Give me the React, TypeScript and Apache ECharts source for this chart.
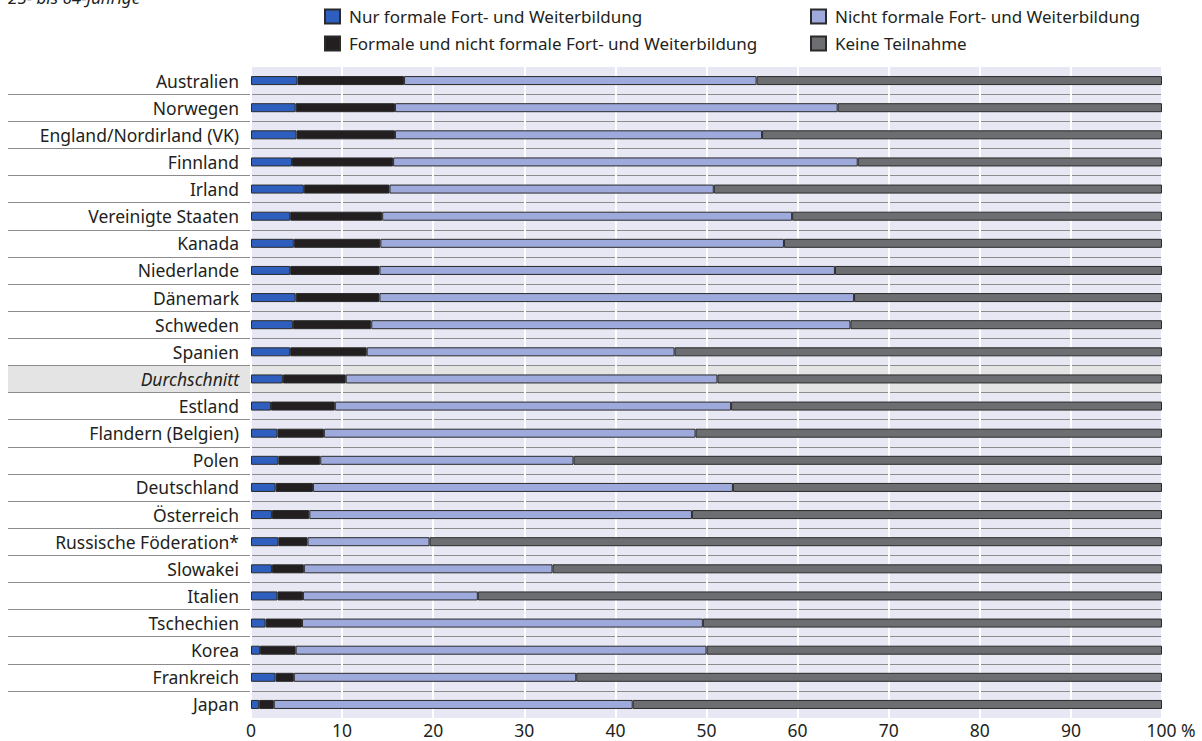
import React, { useEffect, useRef } from "react";
import * as echarts from "echarts";

const FONT = '"Noto Sans", "Liberation Sans", sans-serif';
const TEXT = "#231f20";
const FS = 17.5;

const categories = [
  "Australien",
  "Norwegen",
  "England/Nordirland (VK)",
  "Finnland",
  "Irland",
  "Vereinigte Staaten",
  "Kanada",
  "Niederlande",
  "Dänemark",
  "Schweden",
  "Spanien",
  "Durchschnitt",
  "Estland",
  "Flandern (Belgien)",
  "Polen",
  "Deutschland",
  "Österreich",
  "Russische Föderation*",
  "Slowakei",
  "Italien",
  "Tschechien",
  "Korea",
  "Frankreich",
  "Japan",
];

const nurFormal = [5.1, 4.9, 5.0, 4.5, 5.8, 4.3, 4.7, 4.3, 4.9, 4.6, 4.3, 3.5, 2.2, 2.9, 3.0, 2.7, 2.3, 3.0, 2.3, 2.9, 1.6, 1.0, 2.7, 0.9];
const formalUndNicht = [11.7, 10.9, 10.8, 11.1, 9.4, 10.1, 9.5, 9.8, 9.2, 8.6, 8.4, 6.9, 7.0, 5.1, 4.6, 4.1, 4.1, 3.2, 3.5, 2.8, 4.0, 3.9, 2.0, 1.6];
const nichtFormal = [38.7, 48.6, 40.3, 51.0, 35.6, 45.0, 44.3, 50.0, 52.1, 52.6, 33.8, 40.8, 43.5, 40.8, 27.8, 46.1, 42.0, 13.4, 27.3, 19.2, 44.0, 45.1, 31.0, 39.4];
const keineTeilnahme = [44.5, 35.6, 43.9, 33.4, 49.2, 40.6, 41.5, 35.9, 33.8, 34.2, 53.5, 48.8, 47.3, 51.2, 64.6, 47.1, 51.6, 80.4, 66.9, 75.1, 50.4, 50.0, 64.3, 58.1];

const seriesNames = [
  "Nur formale Fort- und Weiterbildung",
  "Formale und nicht formale Fort- und Weiterbildung",
  "Nicht formale Fort- und Weiterbildung",
  "Keine Teilnahme",
];
const seriesColors = ["#2e5fbe", "#231f20", "#9ea9dc", "#6d6e71"];
const seriesData = [nurFormal, formalUndNicht, nichtFormal, keineTeilnahme];

const highlightCategory = "Durchschnitt";
const xTicks = [0, 10, 20, 30, 40, 50, 60, 70, 80, 90, 100];

export default function App() {
  const ref = useRef<HTMLDivElement>(null);

  useEffect(() => {
    if (!ref.current) return;
    const chart = echarts.init(ref.current, null, { renderer: "svg" });

    const legendCommon = {
      orient: "vertical",
      top: 3,
      itemWidth: 15,
      itemHeight: 14,
      itemGap: 10,
      icon: "rect",
      selectedMode: false,
      textStyle: { fontFamily: FONT, fontSize: 17, lineHeight: 17, color: TEXT, padding: [0, 0, 0, 4] },
    };

    chart.setOption({
      animation: false,
      textStyle: { fontFamily: FONT },
      graphic: [
        {
          type: "text",
          left: 8,
          top: -11,
          style: { text: "25- bis 64-Jährige", font: `italic 17px ${FONT}`, fill: TEXT },
        },
      ],
      legend: [
        { ...legendCommon, left: 319, data: [seriesNames[0], seriesNames[1]] },
        { ...legendCommon, left: 805, data: [seriesNames[2], seriesNames[3]] },
      ],
      grid: [
        { left: 251, right: 40, top: 67, bottom: 23, show: true, backgroundColor: "#e8e8f4", borderWidth: 0, z: -3 },
        { left: 8, right: 40, top: 67, bottom: 23, show: false, z: -3 },
      ],
      xAxis: [
        {
          gridIndex: 0,
          type: "value",
          min: 0,
          max: 100,
          interval: 10,
          z: 0,
          axisLine: { show: false },
          axisTick: { show: false },
          splitLine: { show: true, lineStyle: { color: "#ffffff", width: 2 } },
          axisLabel: {
            margin: 4,
            fontSize: FS,
            lineHeight: 16,
            fontFamily: FONT,
            color: TEXT,
            customValues: xTicks,
            formatter: (v: number) => (v === 100 ? "{p|100 %}" : String(v)),
            rich: { p: { fontSize: FS, lineHeight: 16, fontFamily: FONT, color: TEXT, padding: [0, 0, 0, 18] } },
          },
        },
        { gridIndex: 1, type: "value", min: 0, max: 1, show: false },
      ],
      yAxis: [
        {
          gridIndex: 0,
          type: "category",
          inverse: true,
          data: categories,
          z: 0,
          axisLine: { show: false },
          axisTick: { show: false },
          splitLine: { show: false },
          axisLabel: {
            margin: 12,
            fontSize: FS,
            fontFamily: FONT,
            color: TEXT,
            interval: 0,
            formatter: (v: string) => (v === highlightCategory ? `{i|${v}}` : v),
            rich: { i: { fontStyle: "italic", fontSize: FS, fontFamily: FONT, color: TEXT } },
          },
        },
        {
          gridIndex: 1,
          type: "category",
          inverse: true,
          data: categories,
          z: -1,
          axisLine: { show: false },
          axisTick: { show: false },
          axisLabel: { show: false },
          splitLine: {
            show: true,
            interval: 0,
            showMinLine: false,
            showMaxLine: false,
            lineStyle: { color: "#8c8c8c", width: 1 },
          },
        },
      ],
      series: [
        {
          type: "bar",
          name: "highlight",
          xAxisIndex: 1,
          yAxisIndex: 1,
          barWidth: "100%",
          silent: true,
          z: -2,
          itemStyle: { color: "#e4e4e4" },
          data: categories.map((c) => (c === highlightCategory ? 1 : "-")),
        },
        ...seriesNames.map((name, i) => ({
          type: "bar",
          name,
          stack: "total",
          xAxisIndex: 0,
          yAxisIndex: 0,
          barWidth: 9,
          z: 2,
          itemStyle: { color: seriesColors[i], borderColor: "#2a2a2a", borderWidth: 1 },
          data: seriesData[i],
        })),
      ],
    });

    return () => chart.dispose();
  }, []);

  return (
    <div
      ref={ref}
      style={{ position: "fixed", left: 0, top: 0, width: 1202, height: 741, background: "#ffffff" }}
    />
  );
}
